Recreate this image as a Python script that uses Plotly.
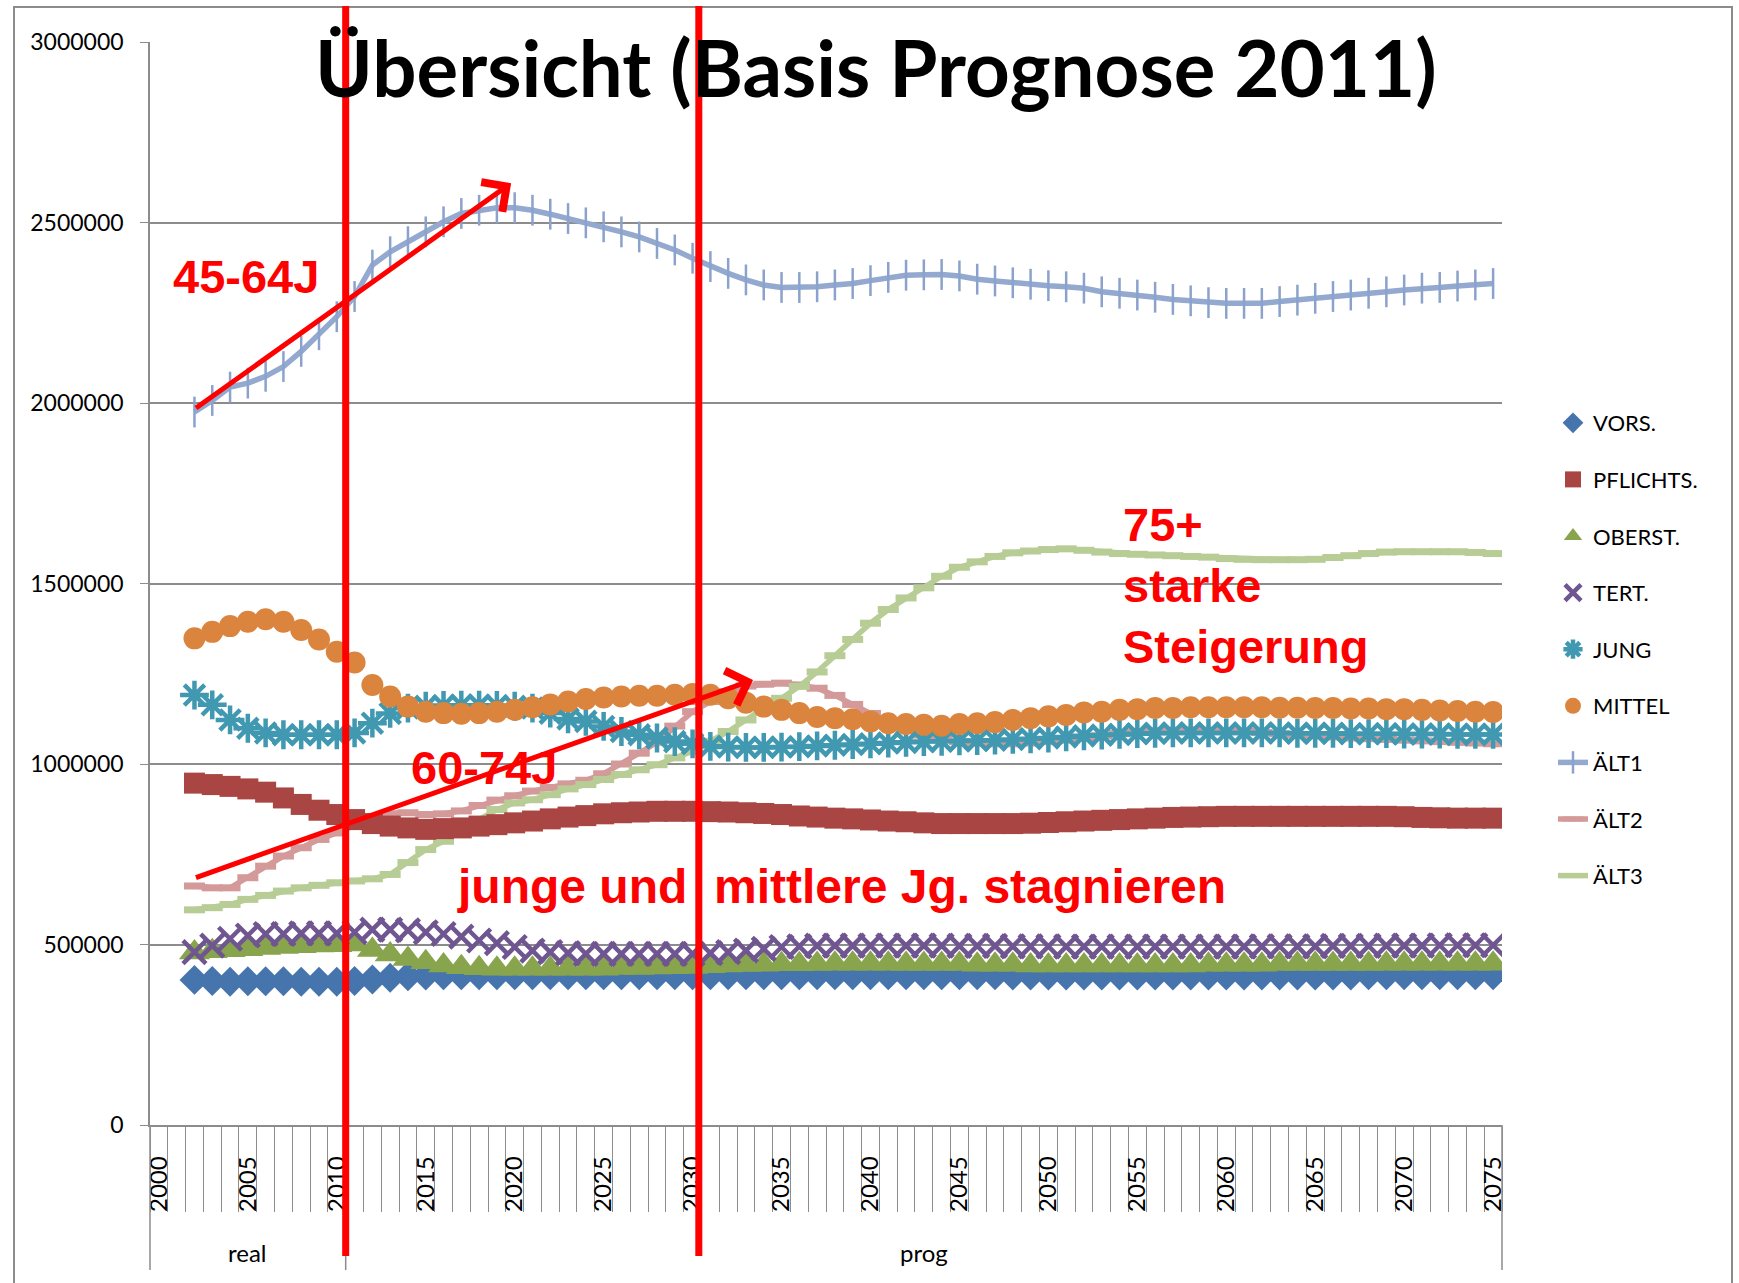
import plotly.graph_objects as go

# ---------------- data ----------------
years = list(range(2002, 2076))
label_years = list(range(2000, 2080, 5))
group_bounds = [1999.5, 2010.5, 2075.5]
group_names = ["real", "prog"]
group_centers = [2005.0, 2043.0]
marker_years = [2010.5, 2030.35]

vors = [402000, 399000, 397000, 398000, 398000, 398000, 397000, 397000, 397000, 399000,
        403000, 408000, 412000, 414000, 415000, 415000, 415000, 415000, 415000, 415000,
        415000, 415000, 415000, 415000, 415000, 415000, 415000, 415000, 415000, 415000,
        415000, 415000, 415000, 415000, 415000, 415000,
        415000, 415000, 415000, 415000, 415000, 415000, 415000, 415000, 415000, 415000,
        414000, 414000, 414000, 414000, 414000, 414000, 414000, 414000, 414000, 414000,
        414000, 414000, 414000, 414000, 414000, 414000, 414000, 414000, 414000, 414000,
        415000, 415000, 415000, 415000, 415000, 415000, 415000, 415000]

pflichts = [947000, 943000, 938000, 931000, 922000, 906000, 888000, 872000, 860000, 846000,
            835000, 828000, 823000, 819000, 821000, 823000, 828000, 832000, 837000, 842000,
            848000, 853000, 857000, 862000, 865000, 867000, 869000, 869000, 869000, 868000,
            867000, 865000, 863000, 860000, 856000, 853000,
            850000, 848000, 845000, 842000, 840000, 837000, 835000, 835000, 835000, 835000,
            835000, 836000, 838000, 840000, 842000, 844000, 846000, 848000, 850000, 852000,
            853000, 854000, 855000, 855000, 855000, 855000, 855000, 855000, 855000, 855000,
            855000, 855000, 854000, 852000, 851000, 850000, 850000, 850000]

oberst = [478000, 481000, 484000, 487000, 490000, 493000, 495000, 497000, 498000, 500000,
          485000, 472000, 460000, 451000, 442000, 437000, 434000, 433000, 433000, 433000,
          433000, 433000, 433000, 433000, 435000, 435000, 436000, 437000, 438000, 440000,
          442000, 443000, 444000, 445000, 445000, 446000,
          447000, 447000, 447000, 447000, 446000, 446000, 446000, 446000, 444000, 444000,
          444000, 442000, 442000, 442000, 442000, 442000, 442000, 442000, 442000, 442000,
          442000, 444000, 444000, 444000, 444000, 446000, 446000, 446000, 446000, 446000,
          446000, 447000, 447000, 447000, 447000, 447000, 447000, 447000]

tert = [479000, 497000, 516000, 525000, 529000, 529000, 531000, 531000, 531000, 534000,
        541000, 541000, 539000, 534000, 529000, 522000, 511000, 504000, 493000, 483000,
        479000, 476000, 474000, 474000, 474000, 474000, 474000, 474000, 474000, 476000,
        479000, 483000, 488000, 493000, 495000, 497000,
        497000, 497000, 497000, 497000, 497000, 497000, 497000, 496000, 496000, 496000,
        495000, 495000, 495000, 494000, 494000, 494000, 494000, 494000, 494000, 494000,
        494000, 494000, 494000, 494000, 495000, 495000, 495000, 495000, 496000, 496000,
        496000, 497000, 497000, 497000, 498000, 498000, 498000, 498000]

jung = [1191000, 1164000, 1122000, 1099000, 1086000, 1081000, 1081000, 1081000, 1081000, 1086000,
        1113000, 1140000, 1155000, 1160000, 1162000, 1163000, 1163000, 1162000, 1160000, 1155000,
        1141000, 1125000, 1118000, 1104000, 1090000, 1081000, 1072000, 1062000, 1056000, 1049000,
        1047000, 1046000, 1046000, 1047000, 1048000, 1050000,
        1052000, 1054000, 1056000, 1058000, 1060000, 1062000, 1063000, 1064000, 1065000, 1066000,
        1068000, 1070000, 1072000, 1075000, 1078000, 1080000, 1082000, 1084000, 1085000, 1086000,
        1086000, 1086000, 1086000, 1086000, 1086000, 1086000, 1085000, 1085000, 1085000, 1084000,
        1084000, 1084000, 1083000, 1083000, 1083000, 1082000, 1082000, 1082000]

mittel = [1348000, 1366000, 1382000, 1394000, 1401000, 1394000, 1371000, 1345000, 1311000, 1281000,
          1219000, 1187000, 1159000, 1145000, 1141000, 1139000, 1141000, 1145000, 1150000, 1157000,
          1165000, 1173000, 1180000, 1184000, 1187000, 1189000, 1189000, 1192000, 1194000, 1192000,
          1182000, 1170000, 1159000, 1150000, 1141000, 1130000,
          1127000, 1124000, 1118000, 1113000, 1111000, 1109000, 1106000, 1111000, 1113000, 1116000,
          1122000, 1127000, 1132000, 1136000, 1143000, 1145000, 1150000, 1152000, 1155000, 1155000,
          1157000, 1157000, 1157000, 1157000, 1157000, 1156000, 1156000, 1155000, 1155000, 1154000,
          1154000, 1152000, 1152000, 1150000, 1148000, 1147000, 1145000, 1144000]

alt1 = [1975000, 2007000, 2044000, 2055000, 2074000, 2101000, 2143000, 2189000, 2239000, 2295000,
        2382000, 2419000, 2447000, 2474000, 2502000, 2525000, 2534000, 2541000, 2541000, 2534000,
        2523000, 2511000, 2499000, 2488000, 2474000, 2460000, 2442000, 2424000, 2401000, 2378000,
        2359000, 2341000, 2327000, 2320000, 2320000, 2322000,
        2327000, 2331000, 2339000, 2348000, 2354000, 2355000, 2356000, 2352000, 2343000, 2338000,
        2333000, 2329000, 2325000, 2322000, 2318000, 2308000, 2304000, 2299000, 2293000, 2287000,
        2283000, 2278000, 2276000, 2276000, 2276000, 2281000, 2285000, 2290000, 2295000, 2299000,
        2304000, 2308000, 2313000, 2318000, 2320000, 2324000, 2327000, 2331000]

alt2 = [662000, 657000, 657000, 685000, 717000, 745000, 768000, 791000, 809000, 830000,
        850000, 862000, 865000, 860000, 862000, 870000, 885000, 900000, 912000, 925000,
        935000, 945000, 955000, 973000, 1000000, 1030000, 1060000, 1105000, 1145000, 1173000,
        1200000, 1216000, 1221000, 1224000, 1219000, 1210000,
        1190000, 1165000, 1140000, 1115000, 1095000, 1080000, 1070000, 1062000, 1058000, 1056000,
        1056000, 1058000, 1062000, 1066000, 1072000, 1078000, 1084000, 1088000, 1092000, 1094000,
        1095000, 1094000, 1092000, 1090000, 1087000, 1084000, 1081000, 1078000, 1075000, 1072000,
        1070000, 1068000, 1066000, 1064000, 1062000, 1060000, 1058000, 1056000]

alt3 = [596000, 602000, 611000, 625000, 636000, 648000, 657000, 664000, 671000, 676000,
        682000, 694000, 727000, 763000, 786000, 819000, 846000, 874000, 892000, 901000,
        915000, 931000, 943000, 957000, 971000, 984000, 998000, 1017000, 1035000, 1063000,
        1090000, 1122000, 1155000, 1182000, 1215000, 1255000,
        1300000, 1345000, 1390000, 1428000, 1460000, 1488000, 1520000, 1545000, 1560000, 1575000,
        1585000, 1590000, 1594000, 1596000, 1592000, 1587000, 1583000, 1581000, 1579000, 1577000,
        1575000, 1573000, 1569000, 1567000, 1566000, 1566000, 1566000, 1567000, 1572000, 1577000,
        1583000, 1587000, 1588000, 1588000, 1588000, 1588000, 1586000, 1583000]

# ---------------- geometry helpers ----------------
W, H = 1739, 1283
L, R, T, B = 150, 1502, 42, 1125
X0, X1 = 1999.5, 2075.5
Y0, Y1 = 0, 3000000


def xp(px):
    return (px - L) / (R - L)


def yp(py):
    return (B - py) / (B - T)


def xy(year):
    return (year - X0) / (X1 - X0)


GRID = "#8C8C8C"
RED = "#FF0000"
AX_FONT = "Lato, 'Open Sans', sans-serif"
RED_FONT = "'Liberation Sans', Arial, sans-serif"

fig = go.Figure()

# line series (drawn underneath the marker series)
lines = [
    ("ÄLT1", alt1, "#93A9CF", 7, dict(symbol="line-ns-open", size=22, color="#8AA2CC",
                                      line=dict(color="#8AA2CC", width=2.5))),
    ("ÄLT2", alt2, "#D39A99", 8, dict(symbol="line-ew-open", size=15, color="#D39A99",
                                      line=dict(color="#D39A99", width=7))),
    ("ÄLT3", alt3, "#B7CD95", 9, dict(symbol="line-ew-open", size=15, color="#B7CD95",
                                      line=dict(color="#B7CD95", width=7))),
]
for name, vals, col, rank, mk in lines:
    fig.add_trace(go.Scatter(x=years, y=vals, name=name, mode="lines+markers",
                             line=dict(color=col, width=5.5), marker=mk,
                             legendrank=rank, legendgroup=name))

markers = [
    ("VORS.", vors, "#4674AC", "diamond", 23, 1, 0),
    ("PFLICHTS.", pflichts, "#A94542", "square", 21, 2, 0),
    ("OBERST.", oberst, "#88A54D", "triangle-up", 27, 3, 0),
    ("TERT.", tert, "#6F5690", "x-thin-open", 23, 4, 4.5),
    ("JUNG", jung, "#4199B1", "asterisk-open", 24, 5, 4.5),
    ("MITTEL", mittel, "#DB843D", "circle", 22, 6, 0),
]
for name, vals, col, sym, size, rank, lw in markers:
    mk = dict(symbol=sym, size=size, color=col)
    if lw:
        mk["line"] = dict(color=col, width=lw)
    else:
        mk["line"] = dict(width=0)
    fig.add_trace(go.Scatter(x=years, y=vals, name=name, mode="markers", marker=mk,
                             legendrank=rank, legendgroup=name))

shapes = []
# chart border
shapes.append(dict(type="rect", xref="paper", yref="paper", x0=xp(14), x1=xp(1732),
                   y0=yp(1320), y1=yp(7), line=dict(color=GRID, width=2)))
# category group separators
for gb in group_bounds:
    shapes.append(dict(type="line", xref="paper", yref="paper", x0=xy(gb), x1=xy(gb),
                       y0=0, y1=yp(1270), line=dict(color=GRID, width=1.5)))
# red vertical marker lines
for my in marker_years:
    shapes.append(dict(type="line", xref="paper", yref="paper", x0=xy(my), x1=xy(my),
                       y0=yp(1256), y1=yp(6), line=dict(color=RED, width=7), layer="above"))

annotations = []
annotations.append(dict(text="<b>Übersicht (Basis Prognose 2011)</b>", xref="paper", yref="paper",
                        x=xp(876), y=yp(67), xanchor="center", yanchor="middle", showarrow=False,
                        font=dict(family="Lato, 'Open Sans', sans-serif", size=78, color="black")))
for gname, gc in zip(group_names, group_centers):
    annotations.append(dict(text=gname, xref="paper", yref="paper", x=xy(gc), y=yp(1252),
                            xanchor="center", yanchor="middle", showarrow=False,
                            font=dict(family=AX_FONT, size=24, color="black")))

red_texts = [
    ("45-64J", xp(246), yp(276), "center", 47),
    ("60-74J", xp(484), yp(767), "center", 47),
    ("junge und\u00a0 mittlere Jg. stagnieren", xp(455), yp(886), "left", 48),
    ("75+<br>starke<br>Steigerung", xp(1121), yp(585), "left", 47),
]
for txt, x, y, anc, fs in red_texts:
    annotations.append(dict(text="<b>" + txt + "</b>", xref="paper", yref="paper", x=x, y=y,
                            xanchor=anc, yanchor="middle", align="left", showarrow=False,
                            font=dict(family=RED_FONT, size=fs, color=RED)))

arrows = [((2002.0, 1983000), (2019.8, 2609000)),
          ((2002.0, 684000), (2033.4, 1233000))]
for (tx, ty), (hx, hy) in arrows:
    annotations.append(dict(x=hx, y=hy, ax=tx, ay=ty, xref="x", yref="y", axref="x", ayref="y",
                            text="", showarrow=True, arrowhead=4, arrowsize=1.4, arrowwidth=5,
                            arrowcolor=RED, standoff=0))

fig.update_layout(
    width=W, height=H, autosize=False,
    margin=dict(l=L, r=W - R, t=T, b=H - B, pad=0),
    paper_bgcolor="white", plot_bgcolor="white",
    showlegend=True,
    legend=dict(x=xp(1553), y=yp(402), xanchor="left", yanchor="top",
                font=dict(family=AX_FONT, size=22, color="black"),
                tracegroupgap=25, bgcolor="rgba(0,0,0,0)", itemsizing="trace"),
    xaxis=dict(range=[X0, X1], tickmode="array", tickvals=label_years,
               ticktext=[str(v) for v in label_years], tickangle=-90, ticks="",
               showgrid=False, zeroline=False, showline=True, linecolor=GRID, linewidth=1.5,
               tickfont=dict(family=AX_FONT, size=24, color="black"), ticklabelstandoff=20,
               minor=dict(tick0=X0, dtick=1, ticks="outside", ticklen=85, tickcolor=GRID,
                          tickwidth=1.2, showgrid=False)),
    yaxis=dict(range=[Y0, Y1], tick0=0, dtick=500000, tickformat="d", showgrid=True,
               gridcolor=GRID, gridwidth=1.5, zeroline=False, showline=True, linecolor=GRID,
               linewidth=1.5, ticks="outside", ticklen=8, tickcolor=GRID,
               tickfont=dict(family=AX_FONT, size=23, color="black"), ticklabelstandoff=12),
    shapes=shapes, annotations=annotations,
)

fig.write_html("out.html", config={"displayModeBar": False},
               post_script="document.body.style.margin='0';")
